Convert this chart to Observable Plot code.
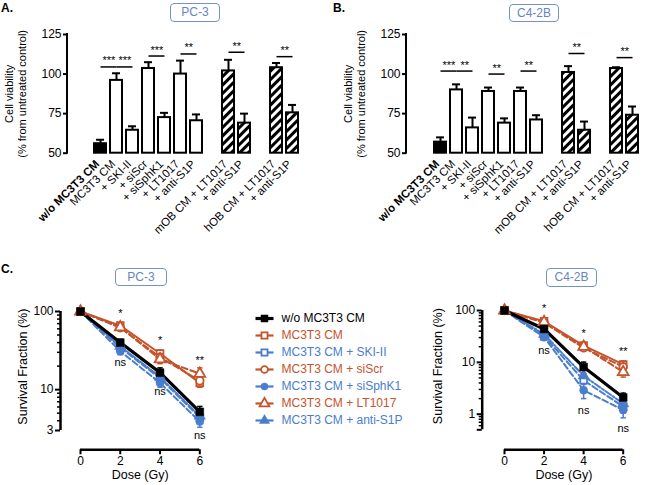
<!DOCTYPE html>
<html><head><meta charset="utf-8">
<script src="https://cdn.jsdelivr.net/npm/d3@7"></script>
<script src="https://cdn.jsdelivr.net/npm/@observablehq/plot@0.6"></script>
<style>
html,body{margin:0;padding:0;background:#fff;}
#root{position:relative;width:645px;height:485px;overflow:hidden;font-family:Arial,"Liberation Sans",Helvetica,sans-serif;}
.slot{position:absolute;}
.slot svg{overflow:visible;display:block;}
.panel{position:absolute;font-weight:bold;font-size:12px;line-height:14px;}
.cell{position:absolute;box-sizing:border-box;border:1px solid #7593cb;border-radius:4px;color:#6686c2;font-size:12px;text-align:center;}
</style></head><body>
<svg width="0" height="0" style="position:absolute"><defs>
<pattern id="hatch" patternUnits="userSpaceOnUse" width="6" height="6" patternTransform="rotate(45)"><rect width="6" height="6" fill="white"/><rect width="3" height="6" fill="black"/></pattern>
</defs></svg>
<div id="root">
  <div class="slot" id="chartA" style="left:0;top:0"></div>
  <div class="slot" id="chartB" style="left:320px;top:0"></div>
  <div class="slot" id="chartC1" style="left:0;top:290px"></div>
  <div class="slot" id="chartC2" style="left:410px;top:290px"></div>
  <div class="slot" id="legend" style="left:240px;top:305px"></div>
  <div class="panel" style="left:1px;top:1px">A.</div>
  <div class="panel" style="left:333px;top:1px">B.</div>
  <div class="panel" style="left:1px;top:262px">C.</div>
  <div class="cell" style="left:170px;top:3px;width:50px;height:19px;line-height:17px">PC-3</div>
  <div class="cell" style="left:509px;top:4px;width:50px;height:18px;line-height:16px">C4-2B</div>
  <div class="cell" style="left:115px;top:268px;width:52px;height:18px;line-height:16px">PC-3</div>
  <div class="cell" style="left:546px;top:268px;width:51px;height:19px;line-height:17px">C4-2B</div>
</div>
<script>
// ---------- data: panels A & B (cell viability) ----------
const barKeys   = ["wo","cm","ski","siscr","sisphk1","lt","anti","mob_lt","mob_anti","hob_lt","hob_anti"];
const barLabels = ["w/o MC3T3 CM","MC3T3 CM","+ SKI-II","+ siScr","+ siSphK1","+ LT1017","+ anti-S1P","mOB CM + LT1017","+ anti-S1P","hOB CM + LT1017","+ anti-S1P"];
const barGroups = ["control","cm","cm","cm","cm","cm","cm","mob","mob","hob","hob"];
const pc3Viability  = [56, 96, 64.5, 103.5, 72.5, 100, 70.5, 102, 69, 104, 75.5];
const pc3Error      = [2.5, 4.5, 2.5, 4, 3, 8.5, 4, 7, 6, 3, 5];
const c42bViability = [57, 90, 66, 89, 69, 89, 71, 101, 64.5, 103.5, 74];
const c42bError     = [3, 3.5, 6.5, 2.5, 3, 2.5, 3, 4, 5.5, 0.8, 5.5];
const yTicksBars = [50, 75, 100, 125];
const sigPairs = [["wo","cm"],["cm","ski"],["siscr","sisphk1"],["lt","anti"],["mob_lt","mob_anti"],["hob_lt","hob_anti"]];
const pc3SigLevels  = [104.5, 104.5, 111.4, 112.7, 113.8, 111];
const pc3SigStars   = ["***","***","***","**","**","**"];
const c42bSigLevels = [101.9, 101.9, 100, 101.9, 113, 110.4];
const c42bSigStars  = ["***","**","**","**","**","**"];

// ---------- data: panel C (survival fraction) ----------
const doses = [0, 2, 4, 6];
const seriesNames = ["w/o MC3T3 CM","MC3T3 CM","MC3T3 CM + SKI-II","MC3T3 CM + siScr","MC3T3 CM + siSphK1","MC3T3 CM + LT1017","MC3T3 CM + anti-S1P"];
const pc3Survival = [
  [100, 40, 16.5, 5.2],
  [100, 66, 29, 12.2],
  [100, 34.5, 14, 4.4],
  [100, 62, 26, 13],
  [100, 31, 12.2, 3.9],
  [100, 63, 24.5, 16],
  [100, 36, 14.5, 4.6]];
const pc3SurvivalErr = [
  [2, 4, 2.5, 0.9],[3, 5, 3, 1.5],[2, 3, 2, 0.7],[3, 4, 3, 1.5],[2, 3, 1.5, 0.6],[3, 4, 3, 3],[2, 3, 2, 0.7]];
const c42bSurvival = [
  [100, 44, 8.1, 2.1],
  [100, 62, 21, 9.1],
  [100, 32, 4.5, 1.4],
  [100, 58, 19, 8.2],
  [100, 30.6, 2.9, 1.2],
  [100, 60, 20, 6.5],
  [100, 35, 5.5, 1.6]];
const c42bSurvivalErr = [
  [3, 6, 2, 0.45],[3, 6, 2.5, 1.5],[3, 4, 1.5, 0.35],[3, 6, 2, 1.2],[3, 4, 0.9, 0.35],[3, 6, 2, 1.3],[3, 4, 1.5, 0.4]];
const pc3AnnotDose  = [2, 4, 6, 2, 4, 6];
const pc3AnnotLevel = [95, 42.5, 23.5, 22, 9.5, 2.6];
const c42bAnnotDose  = [2, 4, 6, 2, 4, 6];
const c42bAnnotLevel = [111, 36, 16.3, 16.8, 1.2, 0.54];
const annotText = ["*", "*", "**", "ns", "ns", "ns"];
const pc3YMajor = [3, 10, 100];
const pc3YMinor = [4, 5, 6, 7, 8, 9, 20, 30, 40, 50, 60, 70, 80, 90];
const c42bYMajor = [0.5, 1, 10, 100];
const c42bYMinor = [0.6, 0.7, 0.8, 0.9, 2, 3, 4, 5, 6, 7, 8, 9, 20, 30, 40, 50, 60, 70, 80, 90];

// ---------- styles ----------
const FONT = 'Arial, "Liberation Sans", Helvetica, sans-serif';
const ORANGE = "#c5532b", BLUE = "#4a7dcc";
const seriesStyle = [
  {color: "black", symbol: "square", filled: true, dash: null, width: 3.2, r: 4.4},
  {color: ORANGE, symbol: "square", filled: false, dash: null, width: 2, r: 3.8},
  {color: BLUE, symbol: "square", filled: false, dash: "6,3", width: 2, r: 3.8},
  {color: ORANGE, symbol: "circle", filled: false, dash: "6,3", width: 2, r: 3.8},
  {color: BLUE, symbol: "circle", filled: true, dash: "6,3", width: 2, r: 4},
  {color: ORANGE, symbol: "triangle", filled: false, dash: "6,3", width: 2, r: 4},
  {color: BLUE, symbol: "triangle", filled: true, dash: "7,2,2,2", width: 2, r: 4.2}];
const drawOrder = [2, 4, 6, 1, 3, 5, 0];
const capSymbol = {draw(ctx, size) { const w = Math.sqrt(size) / 2; ctx.moveTo(-w, 0); ctx.lineTo(w, 0); }};
const fillFor = g => g === "control" ? "black" : g === "cm" ? "white" : "url(#hatch)";

function barChart(values, errors, levels, stars, o) {
  const rows = barKeys.map((key, i) => ({key, label: barLabels[i], group: barGroups[i], v: values[i], e: errors[i]}));
  const domain = [];
  rows.forEach((r, i) => {
    if (i > 0 && r.group !== rows[i - 1].group && rows[i - 1].group !== "control") domain.push("gap" + i);
    domain.push(r.key);
  });
  const labelOf = new Map(rows.map(r => [r.key, r.label]));
  const sig = sigPairs.map((p, i) => ({a: p[0], b: p[1], y: levels[i], t: stars[i]}));
  const svg = Plot.plot({
    width: o.width, height: 235, marginTop: 34, marginBottom: 82.3,
    marginLeft: o.marginLeft, marginRight: o.marginRight,
    style: {fontFamily: FONT, fontSize: "12px", background: "none", overflow: "visible", color: "black"},
    x: {domain, paddingInner: 0.28, paddingOuter: 0, insetLeft: o.insetLeft},
    y: {domain: [50, 125]},
    marks: [
      Plot.ruleX(rows, {x: "key", y1: "v", y2: d => d.v + d.e, strokeWidth: 2}),
      Plot.tickY(rows, {x: "key", y: d => d.v + d.e, strokeWidth: 2, insetLeft: 2, insetRight: 2}),
      Plot.barY(rows, {x: "key", y1: 50, y2: "v", fill: d => fillFor(d.group), stroke: "black", strokeWidth: 2}),
      Plot.axisY({ticks: yTicksBars, tickSize: 4, tickPadding: 2, strokeWidth: 2, label: null}),
      Plot.axisX({tickSize: 0, tickRotate: -45, tickPadding: 9, dx: -3, fontSize: 11.5, tickFormat: k => labelOf.get(k) ?? "", label: null}),
      Plot.link(sig, {x1: "a", x2: "b", y1: "y", y2: "y", strokeWidth: 1.5}),
      Plot.text(sig, {x: "a", y: "y", text: "t", dx: 8.3, dy: -6, fontSize: 11, fill: "black"}),
      Plot.text(["Cell viability\n(% from untreated control)"], {frameAnchor: "left", textAnchor: "middle", rotate: -90, dx: -52, lineHeight: 1.18, fontSize: 11})
    ]
  });
  const ys = svg.scale("y");
  d3.select(svg).append("line")
    .attr("x1", o.marginLeft).attr("x2", o.marginLeft)
    .attr("y1", ys.apply(yTicksBars[0]) + 1).attr("y2", ys.apply(yTicksBars[yTicksBars.length - 1]) - 1)
    .attr("stroke", "black").attr("stroke-width", 2);
  d3.select(svg).selectAll('g[aria-label="x-axis tick label"] text')
    .filter(function() { return this.textContent === "w/o MC3T3 CM"; })
    .attr("font-weight", "bold");
  return svg;
}

function survivalChart(values, errs, aDose, aLevel, yMajor, yMinor, o) {
  const rows = [];
  values.forEach((vals, s) => vals.forEach((v, i) => rows.push({s, dose: doses[i], v, e: errs[s][i]})));
  const annots = aDose.map((d, i) => ({dose: d, level: aLevel[i], t: annotText[i]}));
  const lines = [], bars = [], dots = [];
  for (const s of drawOrder) {
    const st = seriesStyle[s];
    const sr = rows.filter(r => r.s === s);
    lines.push(Plot.line(sr, {x: "dose", y: "v", stroke: st.color, strokeWidth: st.width, strokeDasharray: st.dash}));
    bars.push(Plot.ruleX(sr, {x: "dose", y1: d => d.v - d.e, y2: d => d.v + d.e, stroke: st.color, strokeWidth: 1.5}));
    bars.push(Plot.dot(sr, {x: "dose", y: d => d.v + d.e, symbol: capSymbol, r: 3, stroke: st.color, strokeWidth: 1.5}));
    bars.push(Plot.dot(sr, {x: "dose", y: d => d.v - d.e, symbol: capSymbol, r: 3, stroke: st.color, strokeWidth: 1.5}));
    dots.push(Plot.dot(sr, {x: "dose", y: "v", symbol: st.symbol, r: st.r,
      fill: st.filled ? st.color : "white", stroke: st.color, strokeWidth: st.filled ? 0.5 : 1.8}));
  }
  const yDom = o.yDomain;
  return Plot.plot({
    width: o.width, height: 195, marginTop: o.marginTop, marginBottom: 35.7,
    marginLeft: o.marginLeft, marginRight: o.marginRight,
    style: {fontFamily: FONT, fontSize: "12px", background: "none", overflow: "visible", color: "black"},
    x: {domain: [0, 6], insetLeft: o.insetLeft},
    y: {type: "log", domain: yDom, insetBottom: o.insetBottom},
    marks: [
      ...lines, ...bars, ...dots,
      Plot.ruleX([0], {y1: yDom[0], y2: yDom[1], dx: -o.insetLeft, strokeWidth: 2.5}),
      Plot.ruleY([yDom[0]], {x1: 0, x2: 6, dy: o.insetBottom, strokeWidth: 2.5}),
      Plot.axisY({ticks: yMinor, tickSize: 3, strokeWidth: 1.5, tickFormat: () => "", label: null}),
      Plot.axisY({ticks: yMajor, tickSize: 5, tickPadding: 2, strokeWidth: 2, tickFormat: d => String(d), label: null}),
      Plot.axisX({ticks: doses, tickSize: 5, tickPadding: 2, strokeWidth: 2, tickFormat: d => String(d), label: null}),
      Plot.text(annots, {x: "dose", y: "level", text: "t", fontSize: 11, fill: "black"}),
      Plot.text(["Dose (Gy)"], {x: 3, frameAnchor: "bottom", dy: 28.7, fontSize: 12.5}),
      Plot.text(["Survival Fraction (%)"], {frameAnchor: "left", textAnchor: "middle", rotate: -90, dx: o.labelDx, dy: -14, fontSize: 12.5})
    ]
  });
}

function legendChart() {
  const rows = seriesNames.map((name, s) => ({name, s}));
  const marks = [];
  rows.forEach(r => {
    const st = seriesStyle[r.s];
    marks.push(Plot.link([r], {x1: 0, x2: 1, y1: "name", y2: "name", stroke: st.color, strokeWidth: r.s === 0 ? 3.2 : 2.2}));
    marks.push(Plot.dot([r], {x: 0.5, y: "name", symbol: st.symbol, r: st.r * 0.9,
      fill: st.filled ? st.color : "white", stroke: st.color, strokeWidth: st.filled ? 0.5 : 1.8}));
  });
  marks.push(Plot.text(rows, {x: 1, y: "name", text: "name", dx: 8, textAnchor: "start",
    fill: d => seriesStyle[d.s].color, fontSize: 12}));
  return Plot.plot({
    width: 175, height: 125, marginTop: 10, marginBottom: 8, marginLeft: 15, marginRight: 142,
    style: {fontFamily: FONT, fontSize: "12px", background: "none", overflow: "visible"},
    x: {domain: [0, 1], axis: null},
    y: {type: "point", domain: seriesNames, padding: 0, axis: null},
    marks
  });
}

document.getElementById("chartA").append(barChart(pc3Viability, pc3Error, pc3SigLevels, pc3SigStars,
  {width: 318, marginLeft: 67, marginRight: 16, insetLeft: 23}));
document.getElementById("chartB").append(barChart(c42bViability, c42bError, c42bSigLevels, c42bSigStars,
  {width: 325, marginLeft: 86, marginRight: 3, insetLeft: 24}));
document.getElementById("chartC1").append(survivalChart(pc3Survival, pc3SurvivalErr, pc3AnnotDose, pc3AnnotLevel, pc3YMajor, pc3YMinor,
  {width: 210, marginLeft: 60, marginRight: 10.7, insetLeft: 20, marginTop: 21, insetBottom: 19.3, yDomain: [3, 100], labelDx: -38}));
document.getElementById("chartC2").append(survivalChart(c42bSurvival, c42bSurvivalErr, c42bAnnotDose, c42bAnnotLevel, c42bYMajor, c42bYMinor,
  {width: 235, marginLeft: 71.7, marginRight: 22.3, insetLeft: 22.3, marginTop: 20, insetBottom: 20, yDomain: [0.5, 100], labelDx: -44.7}));
document.getElementById("legend").append(legendChart());
</script>
</body></html>
